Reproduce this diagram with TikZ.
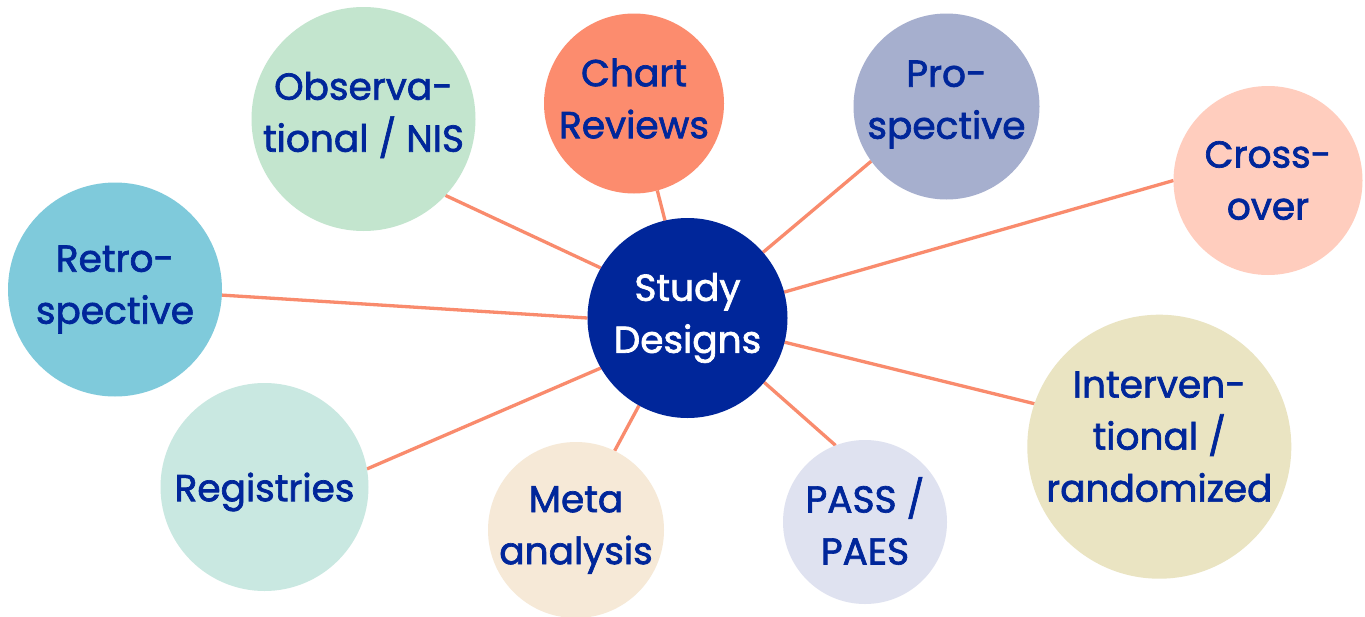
\documentclass[tikz,border=0pt]{standalone}
\usepackage{fontspec}
\setmainfont{Poppins}
\usetikzlibrary{backgrounds}
\definecolor{navy}{RGB}{0,38,154}
\definecolor{linec}{RGB}{249,139,109}
\definecolor{cobs}{RGB}{195,229,206}
\definecolor{cchart}{RGB}{252,140,110}
\definecolor{cpro}{RGB}{166,175,206}
\definecolor{ccross}{RGB}{255,205,190}
\definecolor{cretro}{RGB}{127,202,219}
\definecolor{creg}{RGB}{201,232,225}
\definecolor{cmeta}{RGB}{246,233,215}
\definecolor{cpass}{RGB}{223,226,240}
\definecolor{cint}{RGB}{234,228,194}
\tikzset{
  bubble/.style={circle, inner sep=0pt, outer sep=0pt, draw=none},
  btext/.style={align=center, inner sep=0pt, text=navy, font=\fontsize{37.5}{52}\selectfont\addfontfeature{FakeBold=1.8}},
  link/.style={draw=linec, line width=3.3pt}
}
\begin{document}
\begin{tikzpicture}[x=1pt,y=-1pt]
\useasboundingbox (0,0) rectangle (1365,616);
\clip (0,0) rectangle (1365,616);
% circles
\node[bubble, fill=navy, minimum size=200pt] (sd) at (687.5,318) {};
\node[bubble, fill=cobs, minimum size=224pt] (obs) at (363.5,119) {};
\node[bubble, fill=cchart, minimum size=180pt] (chart) at (634,103.5) {};
\node[bubble, fill=cpro, minimum size=186pt] (pro) at (946.5,106.5) {};
\node[bubble, fill=ccross, minimum size=189pt] (cross) at (1268,180.5) {};
\node[bubble, fill=cretro, minimum size=214pt] (retro) at (115,289.5) {};
\node[bubble, fill=creg, minimum size=208pt] (reg) at (264.5,487) {};
\node[bubble, fill=cmeta, minimum size=176pt] (meta) at (576,530) {};
\node[bubble, fill=cpass, minimum size=164pt] (pass) at (865,522) {};
\node[bubble, fill=cint, minimum size=264pt] (int) at (1159.3,446.7) {};
% texts
\node[btext, text=white] (sdt) at (sd) {Study\\Designs};
\node[btext, yshift=4pt] (obst) at (obs) {Observa-\\tional / NIS};
\node[btext, yshift=5pt] (chartt) at (chart) {Chart\\Reviews};
\node[btext, yshift=2pt] (prot) at (pro) {Pro-\\spective};
\node[btext] (crosst) at (cross) {Cross-\\over};
\node[btext] (retrot) at (retro) {Retro-\\spective};
\node[btext, yshift=-5pt] (regt) at (reg) {Registries};
\node[btext] (metat) at (meta) {Meta\\analysis};
\node[btext, yshift=1pt] (passt) at (pass) {PASS /\\PAES};
\node[btext, yshift=10pt] (intt) at (int) {Interven-\\tional /\\randomized};
% connectors
\begin{scope}[on background layer]
\fill[white] (0,0) rectangle (1365,616);
\draw[link] (sd.150) -- (obs.-43);
\draw[link] (sd.103) -- (chart.-75);
\draw[link] (sd.41.5) -- (pro.-144);
\draw[link] (sd.15.6) -- (cross.180);
\draw[link] (sd.180) -- (retro.-3.5);
\draw[link] (sd.210) -- (reg.10.5);
\draw[link] (sd.-119) -- (meta.64.5);
\draw[link] (sd.-40) -- (pass.111);
\draw[link] (sd.-14.4) -- (int.161.5);
\end{scope}
\end{tikzpicture}
\end{document}
